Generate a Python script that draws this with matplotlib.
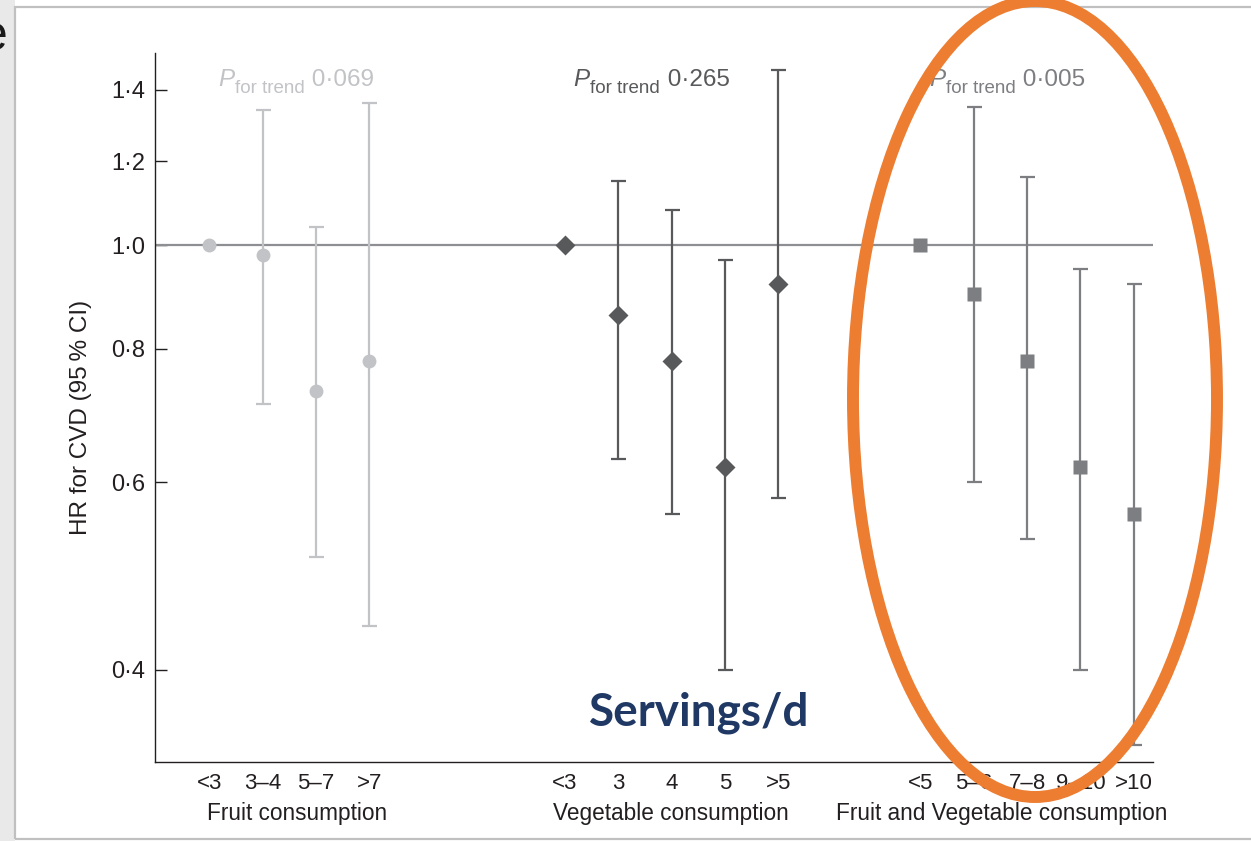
import numpy as np
import matplotlib
matplotlib.use("Agg")
import matplotlib.pyplot as plt
from matplotlib.patches import Ellipse, Rectangle
from matplotlib.ticker import NullLocator
from matplotlib.transforms import blended_transform_factory

plt.rcParams['font.family'] = ['Liberation Sans', 'DejaVu Sans']

# data (HR and 95% CI, first category is the reference)
nan = np.nan
fruit_labels = ["<3", "3\u20134", "5\u20137", ">7"]
fruit_hr = [1.0, 0.98, 0.73, 0.78]
fruit_lo = [nan, 0.71, 0.51, 0.44]
fruit_hi = [nan, 1.34, 1.04, 1.36]

veg_labels = ["<3", "3", "4", "5", ">5"]
veg_hr = [1.0, 0.86, 0.78, 0.62, 0.92]
veg_lo = [nan, 0.63, 0.56, 0.40, 0.58]
veg_hi = [nan, 1.15, 1.08, 0.97, 1.46]

fv_labels = ["<5", "5\u20136", "7\u20138", "9\u201310", ">10"]
fv_hr = [1.0, 0.90, 0.78, 0.62, 0.56]
fv_lo = [nan, 0.60, 0.53, 0.40, 0.34]
fv_hi = [nan, 1.35, 1.16, 0.95, 0.92]

group_names = ["Fruit consumption", "Vegetable consumption",
               "Fruit and Vegetable consumption"]
p_trend = ["0\u00b7069", "0\u00b7265", "0\u00b7005"]

ytick_vals = [0.4, 0.6, 0.8, 1.0, 1.2, 1.4]
ytick_labels = ["0\u00b74", "0\u00b76", "0\u00b78", "1\u00b70", "1\u00b72", "1\u00b74"]

# layout / style
starts = [0, 20 / 3, 40 / 3]
name_x = [1.64, 8.66, 14.86]
colors = ["#c2c3c6", "#58595b", "#7d7e82"]
markers = ["o", "D", "s"]
msizes = [10, 10, 10]
dark = "#231f20"

fig = plt.figure(figsize=(12.51, 8.41), dpi=100)
ax = fig.add_axes([0.1239, 0.0939, 0.7978, 0.8431])

ax.axhline(1.0, color="#8e8f92", lw=1.6, zorder=2)

data = [(fruit_labels, fruit_hr, fruit_lo, fruit_hi),
        (veg_labels, veg_hr, veg_lo, veg_hi),
        (fv_labels, fv_hr, fv_lo, fv_hi)]

all_x = []
all_lab = []
for i, (labels, hr, lo, hi) in enumerate(data):
    x = starts[i] + np.arange(len(hr))
    hr = np.array(hr)
    lo = np.array(lo)
    hi = np.array(hi)
    m = ~np.isnan(lo)
    ax.errorbar(x[m], hr[m], yerr=[hr[m] - lo[m], hi[m] - hr[m]], fmt="none",
                ecolor=colors[i], elinewidth=1.6, capsize=5.4, capthick=1.6, zorder=3)
    ax.plot(x, hr, ls="none", marker=markers[i], ms=msizes[i], color=colors[i],
            mec="none", zorder=4)
    all_x += list(x)
    all_lab += labels

ax.set_yscale("log")
ax.set_ylim(0.3277, 1.5156)
ax.set_xlim(-1.018, 17.695)
ax.set_yticks(ytick_vals)
ax.set_yticklabels(ytick_labels)
ax.yaxis.set_minor_locator(NullLocator())
ax.set_xticks(all_x)
ax.set_xticklabels(all_lab)

ax.tick_params(axis="y", direction="in", length=8.5, width=1, labelsize=17, pad=7,
               color=dark, labelcolor=dark)
ax.tick_params(axis="x", length=0, labelsize=16, pad=8, labelcolor=dark)
for s in ["top", "right"]:
    ax.spines[s].set_visible(False)
for s in ["left", "bottom"]:
    ax.spines[s].set_color(dark)
    ax.spines[s].set_linewidth(1.0)

ax.set_ylabel("HR for CVD (95\u2009% CI)", fontsize=17.5, color=dark)
ax.yaxis.set_label_coords(-0.063, 0.486)

trans = blended_transform_factory(ax.transData, ax.transAxes)
for i, name in enumerate(group_names):
    ax.text(name_x[i], -0.072, name, transform=trans, ha="center", va="center",
            fontsize=16.3, color=dark)

# P for trend labels, built piece by piece
renderer = fig.canvas.get_renderer()
for i in range(3):
    x0 = starts[i] + 0.16
    off = 0.0
    parts = [("P", 17.5, "italic", 0), ("for trend", 13.5, "normal", -4.5),
             ("\u00a0" + p_trend[i], 17.5, "normal", 0)]
    for txt, size, style, dy in parts:
        t = ax.annotate(txt, xy=(x0, 1.41), xycoords="data",
                        xytext=(off, dy), textcoords="offset points",
                        fontsize=size, fontstyle=style, color=colors[i],
                        ha="left", va="baseline")
        w = t.get_window_extent(renderer).width
        off += w * 72 / fig.dpi + 0.5

# slide decorations: frame, shadow, cut-off title letter, highlight ellipse, note
fig.patches.append(Rectangle((0.0, 0.0), 0.012, 1.0, transform=fig.transFigure,
                             facecolor="#e9e9e9", edgecolor="none", zorder=0))
fig.patches.append(Rectangle((0.012, 0.0024), 1.0, 0.9893, transform=fig.transFigure,
                             facecolor="none", edgecolor="#c0c0c0", lw=1.6, zorder=5))
fig.text(8 / 1251, 1 - 50 / 841, "e", ha="right", va="baseline", fontsize=36, color="#1a1a1a")

fig.add_artist(Ellipse((1035 / 1251, 1 - 399 / 841), 364 / 1251, 796 / 841,
                       transform=fig.transFigure, facecolor="none",
                       edgecolor="#ed7d31", lw=8.6, zorder=10))
fig.text(699 / 1251, 1 - 725 / 841, "Servings/d", ha="center", va="baseline",
         fontsize=33, fontweight="bold", color="#1f3864", family=["Lato", "DejaVu Sans"],
         zorder=11)

fig.savefig("out.png", dpi=100)
